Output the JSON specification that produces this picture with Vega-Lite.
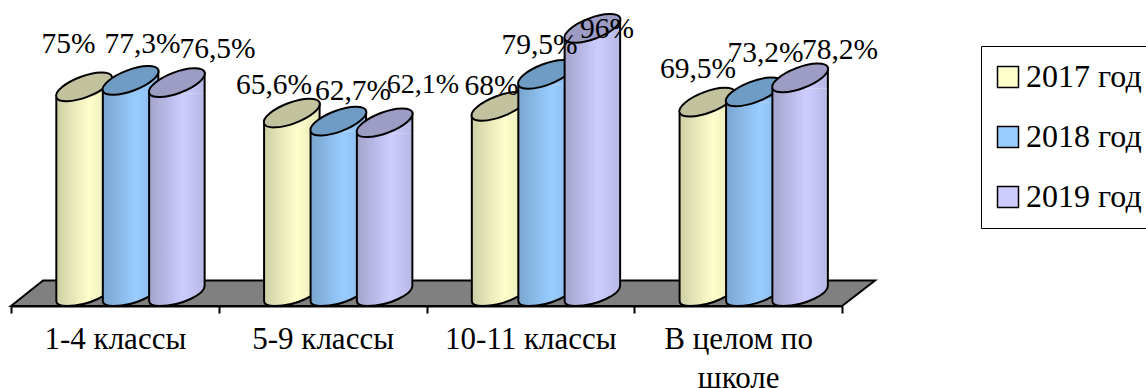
{"$schema":"https://vega.github.io/schema/vega-lite/v6.json","width":831,"height":306,"autosize":{"type":"none"},"padding":{"left":11,"top":0,"right":304,"bottom":82},"background":"white","config":{"view":{"stroke":null},"font":"Liberation Serif"},
"data":{"values":[
{"category":"1-4 классы","year":"2017 год","value":75,"label":"75%"},
{"category":"1-4 классы","year":"2018 год","value":77.3,"label":"77,3%"},
{"category":"1-4 классы","year":"2019 год","value":76.5,"label":"76,5%"},
{"category":"5-9 классы","year":"2017 год","value":65.6,"label":"65,6%"},
{"category":"5-9 классы","year":"2018 год","value":62.7,"label":"62,7%"},
{"category":"5-9 классы","year":"2019 год","value":62.1,"label":"62,1%"},
{"category":"10-11 классы","year":"2017 год","value":68,"label":"68%"},
{"category":"10-11 классы","year":"2018 год","value":79.5,"label":"79,5%"},
{"category":"10-11 классы","year":"2019 год","value":96,"label":"96%"},
{"category":"В целом по школе","year":"2017 год","value":69.5,"label":"69,5%"},
{"category":"В целом по школе","year":"2018 год","value":73.2,"label":"73,2%"},
{"category":"В целом по школе","year":"2019 год","value":78.2,"label":"78,2%"}]},
"encoding":{"x":{"field":"category","type":"nominal","sort":null,"title":null,"scale":{"domain":["1-4 классы","5-9 классы","10-11 классы","В целом по школе"],"paddingInner":0,"paddingOuter":0},"axis":{"labelAngle":0,"labelFont":"Liberation Serif","labelFontSize":31,"labelColor":"black","labelLimit":0,"labelPadding":11,"labelLineHeight":39,"labelExpr":"datum.label == 'В целом по школе' ? ['В целом по','школе'] : datum.label","domainColor":"black","domainWidth":2,"tickColor":"black","tickWidth":2,"tickSize":7,"tickBand":"extent","grid":false}},"y":{"field":"value","type":"quantitative","stack":null,"scale":{"domain":[0,110],"nice":false},"axis":null}},
"layer":[
{"mark":{"type":"point","filled":true,"size":0,"opacity":1,"stroke":"black","strokeWidth":2},"encoding":{"fill":{"field":"year","type":"nominal","scale":{"domain":["2017 год","2018 год","2019 год"],"range":["#ffffcc","#99ccff","#ccccff"]},"legend":{"title":null,"orient":"none","legendX":970,"legendY":46,"symbolType":"square","symbolSize":441,"symbolOffset":-4,"labelFont":"Liberation Serif","labelFontSize":32,"labelColor":"black","labelOffset":2,"rowPadding":28,"padding":15,"fillColor":"white","strokeColor":"black","labelLimit":0,"encode":{"legend":{"update":{"strokeWidth":{"value":2}}}}}}}},
{"data":{"values":[{"category":"5-9 классы","value":0}]},"mark":{"type":"point","shape":"M-311.6,0L-279.6,-25.5L552.4,-25.5L519.4,0Z","size":4,"filled":true,"fill":"#808080","stroke":"black","strokeWidth":2,"opacity":1}},
{"transform":[{"filter":"datum.year == '2017 год'"}],"layer":[
{"mark":{"type":"bar","width":55.5,"xOffset":-30.8,"y2Offset":-20,"fill":{"gradient":"linear","x1":0,"x2":1,"y1":0,"y2":0,"stops":[{"offset":0,"color":"#cfcfa6"},{"offset":0.6,"color":"#ffffcc"},{"offset":1,"color":"#e6e6b8"}]}},"encoding":{"y2":{"datum":0}}},
{"mark":{"type":"point","xOffset":-30.8,"shape":"M-27.75,0L27.75,-21L27.75,0Z","size":4,"filled":true,"opacity":1,"fill":{"gradient":"linear","x1":0,"x2":1,"y1":0,"y2":0,"stops":[{"offset":0,"color":"#cfcfa6"},{"offset":0.6,"color":"#ffffcc"},{"offset":1,"color":"#e6e6b8"}]}}},
{"mark":{"type":"point","xOffset":-30.8,"shape":"M-27.75,-20L27.75,-20C27.75,-12,5,0,-17,0C-24,0,-27.75,-1,-27.75,-5Z","size":4,"filled":true,"opacity":1,"fill":{"gradient":"linear","x1":0,"x2":1,"y1":0,"y2":0,"stops":[{"offset":0,"color":"#cfcfa6"},{"offset":0.6,"color":"#ffffcc"},{"offset":1,"color":"#e6e6b8"}]}},"encoding":{"y":{"datum":0}}},
{"mark":{"type":"point","xOffset":-30.8,"shape":"M27.75,-20C27.75,-12,5,0,-17,0C-24,0,-27.75,-1,-27.75,-5","size":4,"filled":false,"opacity":1,"stroke":"black","strokeWidth":2},"encoding":{"y":{"datum":0}}},
{"mark":{"type":"rule","xOffset":-58.55,"y2Offset":-5,"color":"black","strokeWidth":2},"encoding":{"y2":{"datum":0}}},
{"mark":{"type":"rule","xOffset":-3.05,"yOffset":-21,"y2Offset":-20,"color":"black","strokeWidth":2},"encoding":{"y2":{"datum":0}}},
{"mark":{"type":"point","xOffset":-30.8,"shape":"M-27.75,0A29.67,10.5,-20.7,1,1,27.75,-21A29.67,10.5,-20.7,1,1,-27.75,0Z","size":4,"filled":true,"opacity":1,"fill":"#c2c29f","stroke":"black","strokeWidth":2}}
]},
{"transform":[{"filter":"datum.year == '2018 год'"}],"layer":[
{"mark":{"type":"bar","width":55.5,"xOffset":15.7,"y2Offset":-20,"fill":{"gradient":"linear","x1":0,"x2":1,"y1":0,"y2":0,"stops":[{"offset":0,"color":"#7aa6d0"},{"offset":0.6,"color":"#99ccff"},{"offset":1,"color":"#8ab8e6"}]}},"encoding":{"y2":{"datum":0}}},
{"mark":{"type":"point","xOffset":15.7,"shape":"M-27.75,0L27.75,-21L27.75,0Z","size":4,"filled":true,"opacity":1,"fill":{"gradient":"linear","x1":0,"x2":1,"y1":0,"y2":0,"stops":[{"offset":0,"color":"#7aa6d0"},{"offset":0.6,"color":"#99ccff"},{"offset":1,"color":"#8ab8e6"}]}}},
{"mark":{"type":"point","xOffset":15.7,"shape":"M-27.75,-20L27.75,-20C27.75,-12,5,0,-17,0C-24,0,-27.75,-1,-27.75,-5Z","size":4,"filled":true,"opacity":1,"fill":{"gradient":"linear","x1":0,"x2":1,"y1":0,"y2":0,"stops":[{"offset":0,"color":"#7aa6d0"},{"offset":0.6,"color":"#99ccff"},{"offset":1,"color":"#8ab8e6"}]}},"encoding":{"y":{"datum":0}}},
{"mark":{"type":"point","xOffset":15.7,"shape":"M27.75,-20C27.75,-12,5,0,-17,0C-24,0,-27.75,-1,-27.75,-5","size":4,"filled":false,"opacity":1,"stroke":"black","strokeWidth":2},"encoding":{"y":{"datum":0}}},
{"mark":{"type":"rule","xOffset":-12.05,"y2Offset":-5,"color":"black","strokeWidth":2},"encoding":{"y2":{"datum":0}}},
{"mark":{"type":"rule","xOffset":43.45,"yOffset":-21,"y2Offset":-20,"color":"black","strokeWidth":2},"encoding":{"y2":{"datum":0}}},
{"mark":{"type":"point","xOffset":15.7,"shape":"M-27.75,0A29.67,10.5,-20.7,1,1,27.75,-21A29.67,10.5,-20.7,1,1,-27.75,0Z","size":4,"filled":true,"opacity":1,"fill":"#6f9cc4","stroke":"black","strokeWidth":2}}
]},
{"transform":[{"filter":"datum.year == '2019 год'"}],"layer":[
{"mark":{"type":"bar","width":55.5,"xOffset":62,"y2Offset":-20,"fill":{"gradient":"linear","x1":0,"x2":1,"y1":0,"y2":0,"stops":[{"offset":0,"color":"#a3a3cc"},{"offset":0.6,"color":"#ccccff"},{"offset":1,"color":"#b8b8e6"}]}},"encoding":{"y2":{"datum":0}}},
{"mark":{"type":"point","xOffset":62,"shape":"M-27.75,0L27.75,-21L27.75,0Z","size":4,"filled":true,"opacity":1,"fill":{"gradient":"linear","x1":0,"x2":1,"y1":0,"y2":0,"stops":[{"offset":0,"color":"#a3a3cc"},{"offset":0.6,"color":"#ccccff"},{"offset":1,"color":"#b8b8e6"}]}}},
{"mark":{"type":"point","xOffset":62,"shape":"M-27.75,-20L27.75,-20C27.75,-12,5,0,-17,0C-24,0,-27.75,-1,-27.75,-5Z","size":4,"filled":true,"opacity":1,"fill":{"gradient":"linear","x1":0,"x2":1,"y1":0,"y2":0,"stops":[{"offset":0,"color":"#a3a3cc"},{"offset":0.6,"color":"#ccccff"},{"offset":1,"color":"#b8b8e6"}]}},"encoding":{"y":{"datum":0}}},
{"mark":{"type":"point","xOffset":62,"shape":"M27.75,-20C27.75,-12,5,0,-17,0C-24,0,-27.75,-1,-27.75,-5","size":4,"filled":false,"opacity":1,"stroke":"black","strokeWidth":2},"encoding":{"y":{"datum":0}}},
{"mark":{"type":"rule","xOffset":34.25,"y2Offset":-5,"color":"black","strokeWidth":2},"encoding":{"y2":{"datum":0}}},
{"mark":{"type":"rule","xOffset":89.75,"yOffset":-21,"y2Offset":-20,"color":"black","strokeWidth":2},"encoding":{"y2":{"datum":0}}},
{"mark":{"type":"point","xOffset":62,"shape":"M-27.75,0A29.67,10.5,-20.7,1,1,27.75,-21A29.67,10.5,-20.7,1,1,-27.75,0Z","size":4,"filled":true,"opacity":1,"fill":"#9c9cc4","stroke":"black","strokeWidth":2}}
]},
{"transform":[{"filter":"datum.label == '75%'"}],"mark":{"type":"text","dx":-46.4,"dy":-44,"font":"Liberation Serif","fontSize":29.5,"color":"black","baseline":"alphabetic","align":"center"},"encoding":{"text":{"field":"label"}}},
{"transform":[{"filter":"datum.label == '77,3%'"}],"mark":{"type":"text","dx":27.6,"dy":-38,"font":"Liberation Serif","fontSize":29.5,"color":"black","baseline":"alphabetic","align":"center"},"encoding":{"text":{"field":"label"}}},
{"transform":[{"filter":"datum.label == '76,5%'"}],"mark":{"type":"text","dx":102.6,"dy":-35,"font":"Liberation Serif","fontSize":29.5,"color":"black","baseline":"alphabetic","align":"center"},"encoding":{"text":{"field":"label"}}},
{"transform":[{"filter":"datum.label == '65,6%'"}],"mark":{"type":"text","dx":-48.6,"dy":-30,"font":"Liberation Serif","fontSize":29.5,"color":"black","baseline":"alphabetic","align":"center"},"encoding":{"text":{"field":"label"}}},
{"transform":[{"filter":"datum.label == '62,7%'"}],"mark":{"type":"text","dx":30.4,"dy":-32,"font":"Liberation Serif","fontSize":29.5,"color":"black","baseline":"alphabetic","align":"center"},"encoding":{"text":{"field":"label"}}},
{"transform":[{"filter":"datum.label == '62,1%'"}],"mark":{"type":"text","dx":100.4,"dy":-40,"font":"Liberation Serif","fontSize":28,"color":"black","baseline":"alphabetic","align":"center"},"encoding":{"text":{"field":"label"}}},
{"transform":[{"filter":"datum.label == '68%'"}],"mark":{"type":"text","dx":-38.9,"dy":-22,"font":"Liberation Serif","fontSize":29.5,"color":"black","baseline":"alphabetic","align":"center"},"encoding":{"text":{"field":"label"}}},
{"transform":[{"filter":"datum.label == '79,5%'"}],"mark":{"type":"text","dx":9.1,"dy":-31,"font":"Liberation Serif","fontSize":29.5,"color":"black","baseline":"alphabetic","align":"center"},"encoding":{"text":{"field":"label"}}},
{"transform":[{"filter":"datum.label == '96%'"}],"mark":{"type":"text","dx":76.6,"dy":-1,"font":"Liberation Serif","fontSize":29.5,"color":"black","baseline":"alphabetic","align":"center"},"encoding":{"text":{"field":"label"}}},
{"transform":[{"filter":"datum.label == '69,5%'"}],"mark":{"type":"text","dx":-40.1,"dy":-35,"font":"Liberation Serif","fontSize":29.5,"color":"black","baseline":"alphabetic","align":"center"},"encoding":{"text":{"field":"label"}}},
{"transform":[{"filter":"datum.label == '73,2%'"}],"mark":{"type":"text","dx":27.4,"dy":-40,"font":"Liberation Serif","fontSize":29.5,"color":"black","baseline":"alphabetic","align":"center"},"encoding":{"text":{"field":"label"}}},
{"transform":[{"filter":"datum.label == '78,2%'"}],"mark":{"type":"text","dx":101.9,"dy":-29,"font":"Liberation Serif","fontSize":29.5,"color":"black","baseline":"alphabetic","align":"center"},"encoding":{"text":{"field":"label"}}}
]}
